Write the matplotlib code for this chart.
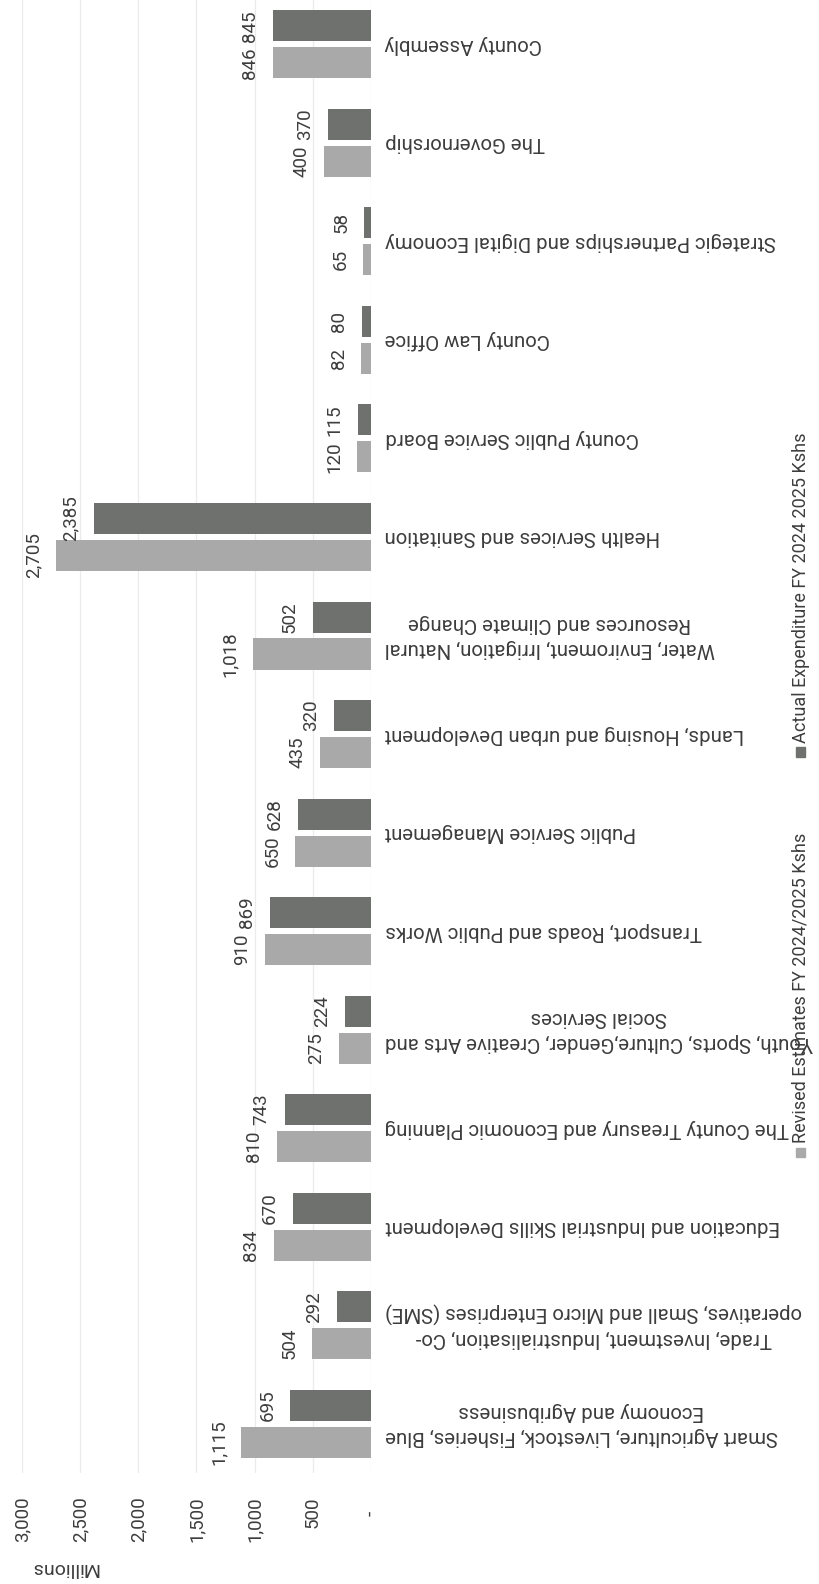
import matplotlib
matplotlib.use("Agg")
import matplotlib.pyplot as plt
from matplotlib.patches import Rectangle
import numpy as np

plt.rcParams['font.family'] = ['Roboto', 'DejaVu Sans']

departments = [
    "Smart Agriculture, Livestock, Fisheries, Blue\nEconomy and Agribusiness",
    "Trade, Investment, Industrialisation, Co-\noperatives, Small and Micro Enterprises (SME)",
    "Education and Industrial Skills Development",
    "The County Treasury and Economic Planning",
    "Youth, Sports, Culture,Gender, Creative Arts and\nSocial Services",
    "Transport, Roads and Public Works",
    "Public Service Management",
    "Lands, Housing and urban Development",
    "Water, Enviroment, Irrigation, Natural\nResources and Climate Change",
    "Health Services and Sanitation",
    "County Public Service Board",
    "County Law Office",
    "Strategic Partnerships and Digital Economy",
    "The Governorship",
    "County Assembly",
]
revised = [1115, 504, 834, 810, 275, 910, 650, 435, 1018, 2705, 120, 82, 65, 400, 846]
actual = [695, 292, 670, 743, 224, 869, 628, 320, 502, 2385, 115, 80, 58, 370, 845]

value_ticks = [0, 500, 1000, 1500, 2000, 2500, 3000]
value_tick_labels = ["-   ", "500", "1,000", "1,500", "2,000", "2,500", "3,000"]
series_names = ["Revised Estimates FY 2024/2025 Kshs",
                "Actual Expenditure FY 2024 2025 Kshs"]
axis_title = "Millions"

W, H = 820, 1584
light = "#a8a9a8"
dark = "#6e716e"
text_col = "#3d3d3d"

fig = plt.figure(figsize=(W / 100, H / 100), dpi=100)
ax = fig.add_axes([22 / W, 111 / H, 349 / W, (H - 111) / H])

pos = np.arange(len(departments))
bar_h = 0.315
off = 0.1875

ax.barh(pos - off, revised, height=bar_h, color=light, zorder=2)
ax.barh(pos + off, actual, height=bar_h, color=dark, zorder=2)

for series, shift in ((revised, -off), (actual, off)):
    for y, v in zip(pos, series):
        ax.annotate(f"{v:,}", xy=(v, y + shift), xytext=(-10, 0),
                    textcoords="offset points", rotation=90,
                    ha="right", va="center", fontsize=13.5, color=text_col)

ax.set_xlim(3000, 0)
ax.set_ylim(-0.5, 14.45)

ax.set_xticks(value_ticks)
ax.set_xticklabels(value_tick_labels, rotation=90, ha="center", va="top",
                   fontsize=13.5, color=text_col)
ax.tick_params(axis="x", length=0, pad=17)

ax.yaxis.tick_right()
ax.set_yticks(pos)
ax.set_yticklabels(departments, rotation=180, ha="left", va="center",
                   multialignment="center", linespacing=1.4,
                   fontsize=14.7, color=text_col)
ax.tick_params(axis="y", length=0, pad=10)

ax.grid(axis="x", color="#ebebeb", lw=0.9, zorder=0)
ax.set_axisbelow(True)
for s in ax.spines.values():
    s.set_visible(False)

fig.text(64 / W, 1 - 1568 / H, axis_title, rotation=180, ha="center",
         va="center", fontsize=14, color=text_col)

# legend drawn vertically along the right edge
legend_x = 801
for name, col, ym in zip(series_names, (light, dark), (1152, 752)):
    sq = 9
    fig.add_artist(Rectangle(((legend_x - sq / 2) / W, 1 - (ym + sq / 2) / H),
                             sq / W, sq / H, transform=fig.transFigure,
                             color=col))
    fig.text(legend_x / W, 1 - (ym - 9) / H, name, rotation=90,
             ha="center", va="bottom", fontsize=13, color=text_col)

fig.savefig("out.png", dpi=100, facecolor="white")
